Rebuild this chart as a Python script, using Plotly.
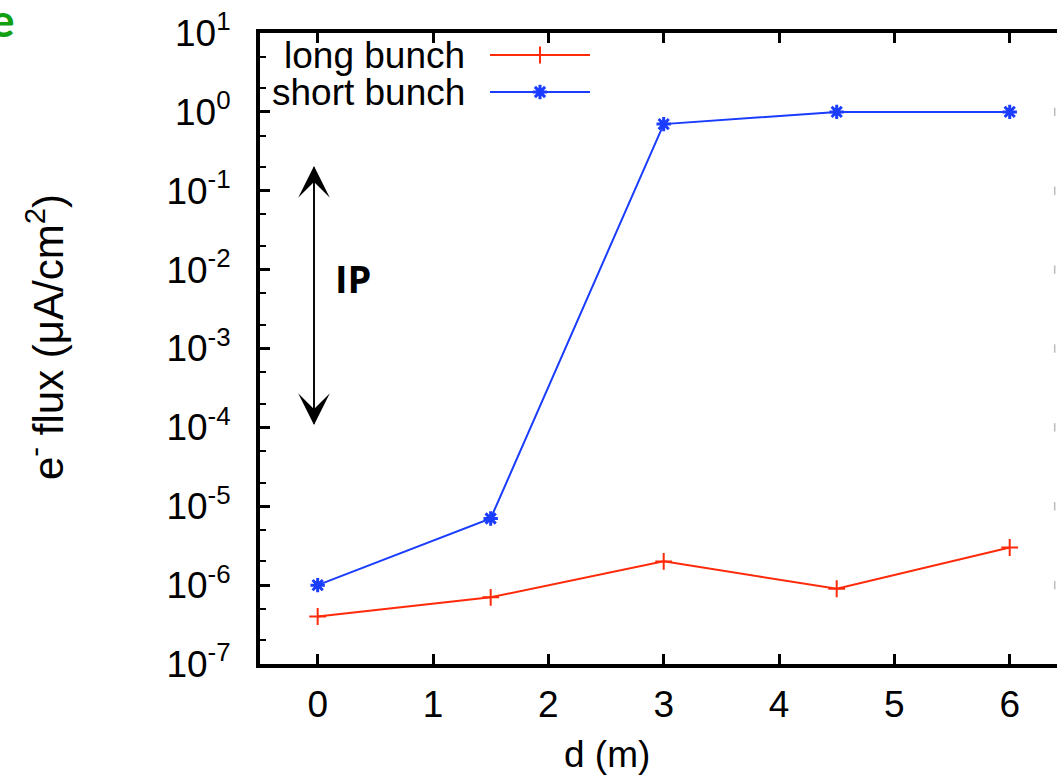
import plotly.graph_objects as go

# distance along the beamline (m)
d_m = [0, 1.5, 3, 4.5, 6]
# electron flux (uA/cm^2)
flux_long = [4e-7, 7e-7, 2e-6, 9e-7, 3e-6]
flux_short = [1e-6, 7e-6, 0.7, 1.0, 1.0]
series_names = ["long bunch", "short bunch"]
decades = [-7, -6, -5, -4, -3, -2, -1, 0, 1]
x_ticks = [0, 1, 2, 3, 4, 5, 6]

RED = "#ff2a0a"
BLUE = "#1a3cff"
FONT = "Liberation Sans, Arial, Helvetica, sans-serif"
FS = 37

W, H = 1057, 778
L, T, B = 260, 33, 114
PW, PH = W - L, H - T - B


def px_x(v):
    """page pixel column -> paper fraction"""
    return (v - L) / PW


def px_y(v):
    """page pixel row -> paper fraction"""
    return (H - B - v) / PH


fig = go.Figure()

fig.add_trace(go.Scatter(
    x=d_m, y=flux_long, mode="lines+markers", name=series_names[0],
    line=dict(color=RED, width=2),
    marker=dict(symbol="cross-thin", size=12, line=dict(color=RED, width=2)),
    showlegend=False, cliponaxis=False))
fig.add_trace(go.Scatter(
    x=d_m, y=flux_short, mode="lines+markers", name=series_names[1],
    line=dict(color=BLUE, width=2),
    marker=dict(symbol="asterisk", size=12, line=dict(color=BLUE, width=3)),
    showlegend=False, cliponaxis=False))

# faint marks of the neighbouring panel at the right edge
fig.add_trace(go.Scatter(
    x=[6.39] * (len(decades) - 2), y=[10 ** k for k in decades[1:-1]],
    mode="markers", marker=dict(symbol="line-ns", size=6,
                                line=dict(color="#bbbbbb", width=1.5)),
    showlegend=False, hoverinfo="skip", cliponaxis=False))

# key: right-aligned labels with line samples to their right
for i, (name, col) in enumerate(zip(series_names, [RED, BLUE])):
    yy = 55 + i * 37
    sym = "cross-thin" if i == 0 else "asterisk"
    fig.add_trace(go.Scatter(
        x=[490, 590], y=[yy, yy], xaxis="x2", yaxis="y2",
        mode="lines", line=dict(color=col, width=2),
        showlegend=False, hoverinfo="skip", cliponaxis=False))
    fig.add_trace(go.Scatter(
        x=[540], y=[yy], xaxis="x2", yaxis="y2", mode="markers",
        marker=dict(symbol=sym, size=12,
                    line=dict(color=col, width=2 if i == 0 else 3)),
        showlegend=False, hoverinfo="skip", cliponaxis=False))
    fig.add_annotation(x=px_x(467), y=px_y(yy), xref="paper", yref="paper",
                       text=name, showarrow=False,
                       xanchor="right", yanchor="middle",
                       font=dict(family=FONT, size=FS, color="black"))

# IP double arrow: each arrow spans the full length so the shaft is unbroken
for tip, tail in ((166, 425), (425, 166)):
    fig.add_annotation(x=314, y=tip, xref="x2", yref="y2",
                       ax=314, ay=tail, axref="x2", ayref="y2", text="",
                       showarrow=True, arrowhead=3, arrowsize=3.3,
                       arrowwidth=1.6, arrowcolor="black")
fig.add_annotation(x=px_x(353), y=px_y(278), xref="paper", yref="paper",
                   text="<b>IP</b>", showarrow=False,
                   xanchor="center", yanchor="middle",
                   font=dict(family="Open Sans, sans-serif", size=38,
                             color="black"))

# axis titles
fig.add_annotation(x=px_x(45), y=px_y(337), xref="paper", yref="paper",
                   text="e<sup>-</sup> flux (μA/cm<sup>2</sup>)",
                   textangle=-90, showarrow=False,
                   xanchor="center", yanchor="middle",
                   font=dict(family=FONT, size=42, color="black"))
fig.add_annotation(x=px_x(607), y=px_y(755), xref="paper", yref="paper",
                   text="d (m)", showarrow=False,
                   xanchor="center", yanchor="middle",
                   font=dict(family=FONT, size=FS, color="black"))

# green letter at the corner
fig.add_annotation(x=px_x(17), y=px_y(20), xref="paper", yref="paper",
                   text="<b>e</b>", showarrow=False,
                   xanchor="right", yanchor="middle",
                   font=dict(family="Lato, sans-serif", size=46,
                             color="#12a012"))

fig.update_layout(
    width=W, height=H,
    margin=dict(l=L, r=0, t=T, b=B, pad=0),
    paper_bgcolor="white", plot_bgcolor="white",
    xaxis=dict(range=[-0.5, 6.41], tickvals=x_ticks,
               ticks="inside", ticklen=10, tickwidth=3, tickcolor="black",
               showline=True, linewidth=4, linecolor="black",
               mirror="ticks", showgrid=False, zeroline=False,
               ticklabelstandoff=5,
               tickfont=dict(family=FONT, size=FS, color="black")),
    yaxis=dict(type="log", range=[-7, 1],
               tickvals=[10 ** k for k in decades],
               ticktext=[f"10<sup>{k}</sup>" for k in decades],
               ticks="inside", ticklen=10, tickwidth=3, tickcolor="black",
               minor=dict(ticks="inside", ticklen=6, tickwidth=2,
                          tickcolor="black", dtick="D2", showgrid=False),
               showline=True, linewidth=4, linecolor="black",
               mirror=False, showgrid=False, zeroline=False,
               ticklabelstandoff=18,
               tickfont=dict(family=FONT, size=FS, color="black")),
    # overlay axes expressed in page pixels over the plot area
    xaxis2=dict(range=[L, W], overlaying="x", visible=False),
    yaxis2=dict(range=[H - B, T], overlaying="y", visible=False),
)

fig.write_html("out.html")
